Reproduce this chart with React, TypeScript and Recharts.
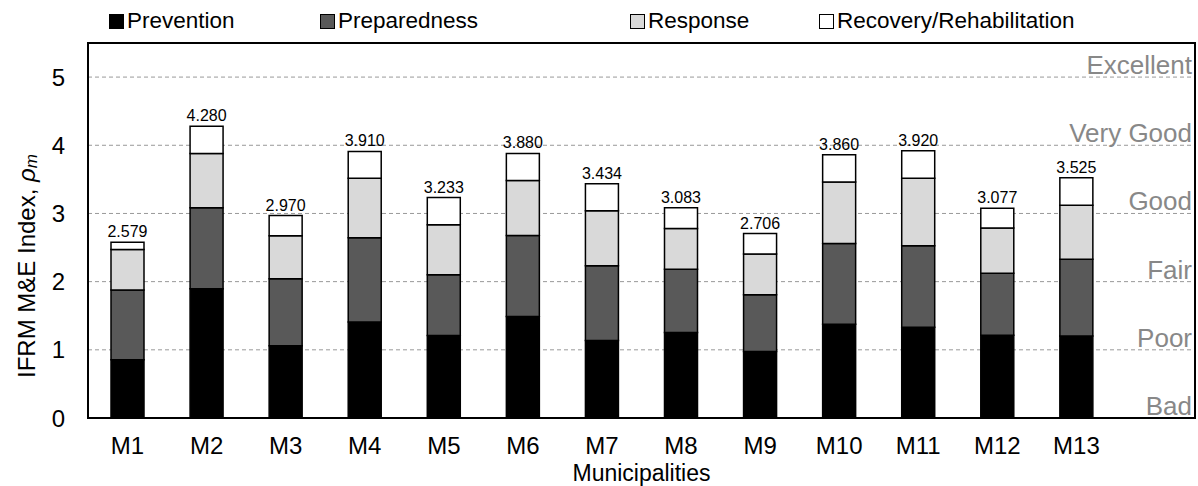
import React from 'react';
import { BarChart, Bar, XAxis, YAxis, CartesianGrid, ReferenceLine, ReferenceArea, LabelList } from 'recharts';

const municipalities = ['M1', 'M2', 'M3', 'M4', 'M5', 'M6', 'M7', 'M8', 'M9', 'M10', 'M11', 'M12', 'M13'];
const prevention = [0.853, 1.897, 1.058, 1.409, 1.209, 1.487, 1.136, 1.253, 0.975, 1.375, 1.331, 1.214, 1.204];
const preparedness = [1.024, 1.186, 0.986, 1.235, 0.893, 1.191, 1.098, 0.927, 0.834, 1.186, 1.195, 0.908, 1.123];
const response = [0.596, 0.795, 0.629, 0.873, 0.732, 0.805, 0.805, 0.600, 0.595, 0.902, 0.991, 0.663, 0.795];
const recovery = [0.106, 0.402, 0.297, 0.393, 0.399, 0.397, 0.395, 0.303, 0.302, 0.397, 0.403, 0.292, 0.403];
const totals = ['2.579', '4.280', '2.970', '3.910', '3.233', '3.880', '3.434', '3.083', '2.706', '3.860', '3.920', '3.077', '3.525'];
const ratingLevels = [0, 1, 2, 3, 4, 5];
const ratingNames = ['Bad', 'Poor', 'Fair', 'Good', 'Very Good', 'Excellent'];
const yTicks = [0, 1, 2, 3, 4, 5];

const FONT = '"Liberation Sans", Arial, sans-serif';

// one spare empty slot on the right leaves room for the rating labels
const data = [
  ...municipalities.map((m, i) => ({
    name: m,
    prevention: prevention[i],
    preparedness: preparedness[i],
    response: response[i],
    recovery: recovery[i],
    total: totals[i],
  })),
  { name: '', prevention: null, preparedness: null, response: null, recovery: null, total: '' },
];

const legendItems = [
  { label: 'Prevention', fill: '#000', left: 109 },
  { label: 'Preparedness', fill: '#595959', left: 320 },
  { label: 'Response', fill: '#d9d9d9', left: 630 },
  { label: 'Recovery/Rehabilitation', fill: '#fff', left: 819 },
];

const RatingLabel = ({ viewBox, text }: any) => {
  if (!viewBox) return null;
  return (
    <text
      x={viewBox.x + viewBox.width - 3}
      y={viewBox.y - 3}
      textAnchor="end"
      fontSize={26}
      fontFamily={FONT}
      fill="#888"
    >
      {text}
    </text>
  );
};

const YTitle = () => (
  <text
    transform="translate(26, 266) rotate(-90)"
    textAnchor="middle"
    dominantBaseline="central"
    fontSize={24}
    fontFamily={FONT}
    fill="#000"
  >
    IFRM M&amp;E Index,{' '}
    <tspan fontStyle="italic">ρ</tspan>
    <tspan fontStyle="italic" fontSize={17} dy={5}>m</tspan>
  </text>
);

export default function App() {
  return (
    <div style={{ position: 'absolute', left: 0, top: 0, width: 1198, height: 486, background: '#fff', fontFamily: FONT }}>
      {legendItems.map((it) => (
        <div
          key={it.label}
          style={{ position: 'absolute', top: 8, left: it.left, display: 'flex', alignItems: 'center', fontSize: 22.5, lineHeight: '26px', color: '#000' }}
        >
          <span
            style={{
              display: 'inline-block',
              width: 13,
              height: 13,
              background: it.fill,
              border: '1.5px solid #000',
              marginRight: 3,
            }}
          />
          {it.label}
        </div>
      ))}
      <BarChart
        width={1198}
        height={486}
        data={data}
        margin={{ top: 43, right: 3, left: 0, bottom: 0 }}
        barSize={33}
      >
        <CartesianGrid vertical={false} stroke="#999" strokeDasharray="4 3" />
        <XAxis
          dataKey="name"
          interval={0}
          height={68}
          tickLine={false}
          tickSize={0}
          tickMargin={19}
          axisLine={{ stroke: '#000', strokeWidth: 2 }}
          tick={{ fill: '#000', fontSize: 24, fontFamily: FONT }}
          label={{ value: 'Municipalities', position: 'insideBottom', offset: 5, fontSize: 23, fill: '#000', fontFamily: FONT }}
        />
        <YAxis
          domain={[0, 5.5]}
          ticks={yTicks}
          width={88}
          tickLine={false}
          tickSize={0}
          tickMargin={23}
          axisLine={{ stroke: '#000', strokeWidth: 2 }}
          tick={{ fill: '#000', fontSize: 24, fontFamily: FONT }}
          label={<YTitle />}
        />
        <Bar dataKey="prevention" stackId="a" fill="#000" stroke="#000" strokeWidth={1.5} isAnimationActive={false} />
        <Bar dataKey="preparedness" stackId="a" fill="#595959" stroke="#000" strokeWidth={1.5} isAnimationActive={false} />
        <Bar dataKey="response" stackId="a" fill="#d9d9d9" stroke="#000" strokeWidth={1.5} isAnimationActive={false} />
        <Bar dataKey="recovery" stackId="a" fill="#fff" stroke="#000" strokeWidth={1.5} isAnimationActive={false}>
          <LabelList dataKey="total" position="top" offset={5} fontSize={16} fill="#000" fontFamily={FONT} />
        </Bar>
        {ratingLevels.map((lv, i) => (
          <ReferenceLine
            key={lv}
            y={lv}
            stroke="none"
            label={<RatingLabel text={ratingNames[i]} />}
          />
        ))}
        <ReferenceArea y1={0} y2={5.5} fill="none" stroke="#000" strokeWidth={2} />
      </BarChart>
    </div>
  );
}
